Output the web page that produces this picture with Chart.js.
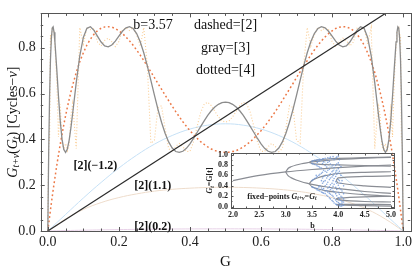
<!DOCTYPE html>
<html><head><meta charset="utf-8">
<script src="https://cdn.jsdelivr.net/npm/chart.js@4"></script>
<style>
html,body{margin:0;padding:0;background:#fff;}
#wrap{position:relative;width:415px;height:273px;overflow:hidden;}
canvas{position:absolute;left:0;top:0;}
</style></head><body>
<div id="wrap"><canvas id="main" width="415" height="273"></canvas><canvas id="inset" width="415" height="273"></canvas></div>
<script>
// ---------- main panel data (logistic map iterates, b = 3.57) ----------
const xGrid = [0,0.0025,0.005,0.0075,0.01,0.0125,0.015,0.0175,0.02,0.025,0.03,0.035,0.04,0.045,0.05,0.055,0.06,0.065,0.07,0.08,0.09,0.1,0.11,0.12,0.13,0.14,0.15,0.16,0.17,0.18,0.19,0.2,0.21,0.22,0.23,0.24,0.25,0.26,0.27,0.28,0.29,0.3,0.31,0.32,0.33,0.34,0.35,0.36,0.37,0.38,0.39,0.4,0.41,0.42,0.43,0.44,0.45,0.46,0.47,0.48,0.49,0.5,
0.51,0.52,0.53,0.54,0.55,0.56,0.57,0.58,0.59,0.6,0.61,0.62,0.63,0.64,0.65,0.66,0.67,0.68,0.69,0.7,0.71,0.72,0.73,0.74,0.75,0.76,0.77,0.78,0.79,0.8,0.81,0.82,0.83,0.84,0.85,0.86,0.87,0.88,0.89,0.9,0.91,0.92,0.93,0.935,0.94,0.945,0.95,0.955,0.96,0.965,0.97,0.975,0.98,0.9825,0.985,0.9875,0.99,0.9925,0.995,0.9975,1];
// dashed = [2]
const dashed2 = [0,0.032,0.062,0.092,0.122,0.150,0.178,0.206,0.232,0.284,0.332,0.379,0.422,0.464,0.503,0.540,0.574,0.607,0.637,0.692,0.739,0.778,0.812,0.838,0.859,0.875,0.885,0.891,0.892,0.890,0.884,0.874,0.862,0.847,0.830,0.811,0.790,0.768,0.744,0.720,0.695,0.670,0.644,0.619,0.594,0.569,0.545,0.521,0.499,0.477,0.457,0.438,0.421,0.405,0.390,0.378,0.367,0.358,0.351,0.347,0.344,0.343,
0.344,0.347,0.351,0.358,0.367,0.378,0.390,0.405,0.421,0.438,0.457,0.477,0.499,0.521,0.545,0.569,0.594,0.619,0.644,0.670,0.695,0.720,0.744,0.768,0.790,0.811,0.830,0.847,0.862,0.874,0.884,0.890,0.892,0.891,0.885,0.875,0.859,0.838,0.812,0.778,0.739,0.692,0.637,0.607,0.574,0.540,0.503,0.464,0.422,0.379,0.332,0.284,0.232,0.206,0.178,0.150,0.122,0.092,0.062,0.032,0];
// gray = [3]
const gray3 = [0,0.346,0.589,0.749,0.842,0.886,0.891,0.868,0.826,0.711,0.588,0.480,0.401,0.356,0.343,0.358,0.396,0.450,0.514,0.648,0.765,0.845,0.885,0.892,0.876,0.850,0.825,0.808,0.804,0.812,0.829,0.851,0.872,0.887,0.892,0.884,0.862,0.826,0.778,0.721,0.658,0.593,0.531,0.475,0.427,0.389,0.362,0.347,0.343,0.348,0.361,0.380,0.404,0.430,0.456,0.481,0.505,0.525,0.541,0.553,0.560,0.563,
0.560,0.553,0.541,0.525,0.505,0.481,0.456,0.430,0.404,0.380,0.361,0.348,0.343,0.347,0.362,0.389,0.427,0.475,0.531,0.593,0.658,0.721,0.778,0.826,0.862,0.884,0.892,0.887,0.872,0.851,0.829,0.812,0.804,0.808,0.825,0.850,0.876,0.892,0.885,0.845,0.765,0.648,0.514,0.450,0.396,0.358,0.343,0.356,0.401,0.480,0.588,0.711,0.826,0.868,0.891,0.886,0.842,0.749,0.589,0.346,0];
// dotted = [4]
const dotted4 = [0,0.372,0.406,0.857,0.813,0.888,0.883,0.870,0.806,0.665,0.410,0.553,0.383,0.354,0.382,0.350,0.373,0.505,0.557,0.360,0.888,0.816,0.888,0.879,0.885,0.825,0.808,0.832,0.842,0.826,0.805,0.827,0.879,0.887,0.875,0.889,0.856,0.807,0.888,0.724,0.383,0.396,0.539,0.547,0.448,0.360,0.346,0.370,0.382,0.368,0.347,0.348,0.389,0.455,0.517,0.554,0.562,0.547,0.523,0.498,0.481,0.475,
0.481,0.498,0.523,0.547,0.562,0.554,0.517,0.455,0.389,0.348,0.347,0.368,0.382,0.370,0.346,0.360,0.448,0.547,0.539,0.396,0.383,0.724,0.888,0.807,0.856,0.889,0.875,0.887,0.879,0.827,0.805,0.826,0.842,0.832,0.808,0.825,0.885,0.879,0.888,0.816,0.888,0.360,0.557,0.505,0.373,0.350,0.382,0.354,0.383,0.553,0.410,0.665,0.806,0.870,0.883,0.888,0.813,0.857,0.406,0.372,0];
// light curves [2](b) for b = -1.2, 1.1, 0.2
const smoothX = [0,0.05,0.1,0.15,0.2,0.25,0.3,0.35,0.4,0.45,0.5,0.55,0.6,0.65,0.7,0.75,0.8,0.85,0.9,0.95,1];
const curveNeg12 = [0,0.072,0.144,0.212,0.275,0.331,0.379,0.417,0.445,0.462,0.468,0.462,0.445,0.417,0.379,0.331,0.275,0.212,0.144,0.072,0];
const curve11 = [0,0.052,0.094,0.124,0.146,0.162,0.174,0.182,0.187,0.190,0.191,0.190,0.187,0.182,0.174,0.162,0.146,0.124,0.094,0.052,0];
const curve02 = [0,0.0019,0.0035,0.0050,0.0062,0.0072,0.0080,0.0087,0.0091,0.0094,0.0095,0.0094,0.0091,0.0087,0.0080,0.0072,0.0062,0.0050,0.0035,0.0019,0];
const diagX = [0,1];
const diagY = [0,1];
const xTickVals = [0,0.2,0.4,0.6,0.8,1.0];
const yTickVals = [0,0.2,0.4,0.6,0.8];

// ---------- inset data (fixed points vs b) ----------
const p1B = [2,2.5,3,3.5,4,4.5,5];
const p1Y = [0.5,0.6,0.667,0.714,0.75,0.778,0.8];
const p2B = [3,3.05,3.1,3.2,3.3,3.4,3.5,3.75,4,4.5,5];
const p2Up = [0.667,0.738,0.765,0.800,0.824,0.842,0.857,0.885,0.905,0.930,0.946];
const p2Lo = [0.667,0.590,0.558,0.513,0.479,0.452,0.429,0.382,0.346,0.292,0.254];
const p4B = [3.449,3.5,3.6,3.75,4,4.5,5];
const p4A = [0.850,0.875,0.895,0.910,0.925,0.94,0.95];
const p4Bv = [0.850,0.827,0.815,0.808,0.801,0.79,0.78];
const p4C = [0.440,0.501,0.55,0.595,0.637,0.66,0.67];
const p4D = [0.440,0.383,0.345,0.31,0.277,0.23,0.2];
const snB = [3.96,4,4.5,5];
const snA1 = [0.50,0.552,0.58,0.59];
const snA2 = [0.50,0.454,0.40,0.37];
const snB1 = [0.15,0.165,0.19,0.2];
const snB2 = [0.15,0.131,0.1,0.09];
const snC1 = [0.04,0.043,0.045,0.04];
const snC2 = [0.04,0.034,0.02,0.012];
const scatB = [3.5,3.5,3.5,3.5,3.55,3.55,3.55,3.55,3.6,3.6,3.6,3.6,3.6,3.6,3.65,3.65,3.65,3.65,3.65,3.65,3.7,3.7,3.7,3.7,3.7,3.7,3.7,3.75,3.75,3.75,3.75,3.75,3.75,3.75,3.75,3.8,3.8,3.8,3.8,3.8,3.8,3.8,3.8,3.85,3.85,3.85,3.85,3.85,3.85,3.85,3.85,3.9,3.9,3.9,3.9,3.9,3.9,3.9,3.9,3.9,3.95,3.95,3.95,3.95,3.95,3.95,3.95,3.95,3.95,4.0,4.0,4.0,4.0,4.0,4.0,4.0,4.0,4.0,4.0,4.05,4.05,4.05,4.05,4.05,4.05,4.05,4.05,4.1,4.1,4.1,4.1,4.1,
3.52,3.52,3.52,3.52,3.58,3.58,3.58,3.58,3.58,3.63,3.63,3.63,3.63,3.63,3.63,3.68,3.68,3.68,3.68,3.68,3.68,3.72,3.72,3.72,3.72,3.72,3.72,3.72,3.78,3.78,3.78,3.78,3.78,3.78,3.78,3.83,3.83,3.83,3.83,3.83,3.83,3.83,3.83,3.88,3.88,3.88,3.88,3.88,3.88,3.88,3.88,3.92,3.92,3.92,3.92,3.92,3.92,3.92,3.92,3.97,3.97,3.97,3.97,3.97,3.97,3.97,3.97,3.97,4.02,4.02,4.02,4.02,4.02,4.02,4.02,4.02,4.02,4.07,4.07,4.07,4.07,4.07,4.07];
const scatY = [0.38,0.50,0.83,0.87,0.36,0.54,0.81,0.89,0.32,0.35,0.58,0.78,0.85,0.90,0.30,0.40,0.62,0.75,0.88,0.91,0.27,0.33,0.45,0.55,0.66,0.83,0.92,0.25,0.30,0.40,0.50,0.60,0.68,0.79,0.93,0.20,0.28,0.36,0.47,0.58,0.70,0.85,0.94,0.15,0.24,0.33,0.42,0.55,0.63,0.82,0.95,0.10,0.20,0.30,0.39,0.50,0.60,0.69,0.80,0.96,0.05,0.13,0.25,0.37,0.48,0.58,0.66,0.79,0.93,0.02,0.08,0.17,0.27,0.41,0.52,0.64,0.73,0.84,0.97,0.01,0.05,0.12,0.20,0.33,0.45,0.60,0.77,0.03,0.09,0.15,0.25,0.40,
0.37,0.52,0.82,0.88,0.34,0.56,0.80,0.89,0.60,0.31,0.38,0.60,0.77,0.87,0.90,0.28,0.36,0.50,0.64,0.74,0.90,0.26,0.35,0.48,0.58,0.70,0.86,0.92,0.22,0.31,0.43,0.55,0.66,0.76,0.89,0.17,0.26,0.38,0.52,0.61,0.72,0.87,0.93,0.12,0.22,0.35,0.45,0.57,0.67,0.78,0.92,0.07,0.16,0.28,0.43,0.54,0.63,0.75,0.90,0.04,0.10,0.21,0.33,0.45,0.62,0.70,0.82,0.95,0.02,0.06,0.14,0.24,0.36,0.50,0.68,0.80,0.90,0.02,0.07,0.10,0.18,0.30,0.50];
const insetXTicks = [2.0,2.5,3.0,3.5,4.0,4.5,5.0];
const insetYTicks = [0,0.2,0.4,0.6,0.8,1.0];

function pts(xs, ys){ return xs.map((x,i)=>({x:x, y:ys[i]})); }
const SERIF = '"Liberation Serif","Times New Roman",serif';

function drawRich(ctx, segs, x, y, baseSize, align){
  let w = 0;
  const fonts = segs.map(s=>{
    const sz = s.sub ? baseSize*0.7 : baseSize;
    const f = (s.bold?'bold ':'') + (s.it?'italic ':'') + sz + 'px ' + SERIF;
    ctx.font = f; const m = ctx.measureText(s.t).width; w += m; return {f, m};
  });
  let cx = align==='center' ? x - w/2 : x;
  ctx.textBaseline = 'middle'; ctx.textAlign = 'left';
  segs.forEach((s,i)=>{
    ctx.font = fonts[i].f;
    ctx.fillText(s.t, cx, y + (s.sub ? baseSize*0.28 : 0));
    cx += fonts[i].m;
  });
}

function frameTicks(ctx, chart, xs, ys, majLen, minLen){
  const a = chart.chartArea;
  ctx.save();
  ctx.strokeStyle = '#555'; ctx.lineWidth = 1;
  ctx.strokeRect(Math.round(a.left)+0.5, Math.round(a.top)+0.5, Math.round(a.right-a.left), Math.round(a.bottom-a.top));
  const X = chart.scales.x, Y = chart.scales.y;
  ctx.beginPath();
  xs.forEach(t=>{
    const px = Math.round(X.getPixelForValue(t.v))+0.5;
    const L = t.major ? majLen : minLen;
    ctx.moveTo(px, a.bottom); ctx.lineTo(px, a.bottom - L);
    ctx.moveTo(px, a.top); ctx.lineTo(px, a.top + L);
  });
  ys.forEach(t=>{
    const py = Math.round(Y.getPixelForValue(t.v))+0.5;
    const L = t.major ? majLen : minLen;
    ctx.moveTo(a.left, py); ctx.lineTo(a.left + L, py);
    ctx.moveTo(a.right, py); ctx.lineTo(a.right - L, py);
  });
  ctx.stroke();
  ctx.restore();
}

const mainXT = [], mainYT = [];
for (let i=0;i<=20;i++){ mainXT.push({v:i*0.05, major: i%4===0}); }
for (let i=0;i<=19;i++){ mainYT.push({v:i*0.05, major: i%4===0}); }

const mainPlugin = {
  id:'mainDeco',
  afterDraw(chart){
    const ctx = chart.ctx, X = chart.scales.x, Y = chart.scales.y;
    frameTicks(ctx, chart, mainXT, mainYT, 4, 2.5);
    ctx.save();
    ctx.fillStyle = '#111';
    ctx.font = '14px ' + SERIF; ctx.textBaseline='middle'; ctx.textAlign='center';
    ctx.fillText('b=3.57', X.getPixelForValue(0.296), Y.getPixelForValue(0.9));
    ctx.fillText('dashed=[2]', X.getPixelForValue(0.5), Y.getPixelForValue(0.9));
    ctx.fillText('gray=[3]', X.getPixelForValue(0.5), Y.getPixelForValue(0.796));
    ctx.fillText('dotted=[4]', X.getPixelForValue(0.5), Y.getPixelForValue(0.7));
    ctx.font = 'bold 12px ' + SERIF; ctx.textAlign='left';
    ctx.fillText('[2](\u22121.2)', X.getPixelForValue(0.072), Y.getPixelForValue(0.283));
    ctx.fillText('[2](1.1)', X.getPixelForValue(0.243), Y.getPixelForValue(0.196));
    ctx.fillText('[2](0.2)', X.getPixelForValue(0.243), Y.getPixelForValue(0.017));
    ctx.font = '15px ' + SERIF; ctx.textAlign='center';
    ctx.fillText('G', (chart.chartArea.left+chart.chartArea.right)/2, 262);
    ctx.translate(13, (chart.chartArea.top+chart.chartArea.bottom)/2);
    ctx.rotate(-Math.PI/2);
    drawRich(ctx, [
      {t:'G', it:true},{t:'t+v', it:true, sub:true},{t:'('},{t:'G', it:true},{t:'t', it:true, sub:true},{t:') [Cycles\u2212'},{t:'v', it:true},{t:']'}
    ], 0, 0, 14, 'center');
    ctx.restore();
  }
};

new Chart(document.getElementById('main'), {
  type:'line',
  data:{datasets:[
    {data:pts(diagX,diagY), borderColor:'#2b2b2b', borderWidth:1.2, order:0},
    {data:pts(xGrid,gray3), borderColor:'#8c8c8c', borderWidth:1.3, order:1},
    {data:pts(xGrid,dashed2), borderColor:'#ec7846', borderWidth:1.5, borderDash:[1.8,2.6], order:2},
    {data:pts(xGrid,dotted4), borderColor:'rgba(248,190,115,0.75)', borderWidth:1.1, borderDash:[1,2], order:3},
    {data:pts(smoothX,curveNeg12), borderColor:'#c6e1f6', borderWidth:1, tension:0.4, order:4},
    {data:pts(smoothX,curve11), borderColor:'#eedccb', borderWidth:1, tension:0.4, order:5},
    {data:pts(smoothX,curve02), borderColor:'#e8d2e8', borderWidth:1, tension:0.4, order:6}
  ]},
  options:{
    responsive:false, animation:false, devicePixelRatio:1,
    layout:{padding:{top:3, right:3.5, left:0, bottom:0}},
    elements:{point:{radius:0}, line:{tension:0}},
    plugins:{legend:{display:false}, tooltip:{enabled:false}},
    scales:{
      x:{type:'linear', min:-0.02, max:1.02,
        afterBuildTicks(s){ s.ticks = xTickVals.map(v=>({value:v})); },
        afterFit(s){ s.height = 42; },
        grid:{display:false, drawTicks:false}, border:{display:false},
        ticks:{padding:3, color:'#222', font:{family:SERIF, size:14}, maxRotation:0, autoSkip:false, callback:v=>Number(v).toFixed(1)}},
      y:{type:'linear', min:0, max:0.95,
        afterBuildTicks(s){ s.ticks = yTickVals.map(v=>({value:v})); },
        afterFit(s){ s.width = 40.7; },
        grid:{display:false, drawTicks:false}, border:{display:false},
        ticks:{padding:5, color:'#222', font:{family:SERIF, size:14}, autoSkip:false, callback:v=>Number(v).toFixed(1)}}
    }
  },
  plugins:[mainPlugin]
});

// ---------- inset ----------
const insXT = [], insYT = [];
for (let i=0;i<=12;i++){ insXT.push({v:2+i*0.25, major: i%2===0}); }
for (let i=0;i<=10;i++){ insYT.push({v:i*0.1, major: i%2===0}); }
const insetPlugin = {
  id:'insetDeco',
  afterDraw(chart){
    const ctx = chart.ctx, X = chart.scales.x, Y = chart.scales.y, a = chart.chartArea;
    frameTicks(ctx, chart, insXT, insYT, 2.5, 1.5);
    ctx.save();
    ctx.fillStyle = '#222';
    ctx.font = 'bold 8px ' + SERIF; ctx.textAlign='center'; ctx.textBaseline='middle';
    ctx.fillText('b', (a.left+a.right)/2, 226);
    drawRich(ctx, [{t:'fixed\u2212points ', bold:true},{t:'G', bold:true, it:true},{t:'t+v', bold:true, it:true, sub:true},{t:'=', bold:true},{t:'G', bold:true, it:true},{t:'t', bold:true, it:true, sub:true}], X.getPixelForValue(2.27), Y.getPixelForValue(0.19), 8, 'left');
    ctx.translate(210, (a.top+a.bottom)/2);
    ctx.rotate(-Math.PI/2);
    drawRich(ctx, [{t:'G', bold:true, it:true},{t:'t', bold:true, it:true, sub:true},{t:'=G[t]', bold:true}], 0, 0, 8, 'center');
    ctx.restore();
  }
};
const grayLine = (xs, ys) => ({type:'line', data:pts(xs,ys), borderColor:'#8a8d94', borderWidth:1.2, pointRadius:0, tension:0.3});
new Chart(document.getElementById('inset'), {
  type:'line',
  data:{datasets:[
    {type:'scatter', data:pts(scatB,scatY), pointRadius:0.8, pointBorderWidth:0, backgroundColor:'rgba(110,150,215,0.8)', borderColor:'rgba(110,150,215,0.8)', order:0},
    grayLine(p1B,p1Y), grayLine(p2B,p2Up), grayLine(p2B,p2Lo),
    grayLine(p4B,p4A), grayLine(p4B,p4Bv), grayLine(p4B,p4C), grayLine(p4B,p4D),
    grayLine(snB,snA1), grayLine(snB,snA2), grayLine(snB,snB1), grayLine(snB,snB2), grayLine(snB,snC1), grayLine(snB,snC2)
  ]},
  options:{
    responsive:false, animation:false, devicePixelRatio:1,
    layout:{padding:{top:153, right:21, left:211, bottom:45}},
    plugins:{legend:{display:false}, tooltip:{enabled:false}},
    scales:{
      x:{type:'linear', min:1.962, max:5.057,
        afterBuildTicks(s){ s.ticks = insetXTicks.map(v=>({value:v})); },
        afterFit(s){ s.height = 20; },
        grid:{display:false, drawTicks:false}, border:{display:false},
        ticks:{padding:2, color:'#222', font:{family:SERIF, size:8, weight:'bold'}, maxRotation:0, autoSkip:false, callback:v=>Number(v).toFixed(1)}},
      y:{type:'linear', min:-0.025, max:1.03,
        afterBuildTicks(s){ s.ticks = insetYTicks.map(v=>({value:v})); },
        afterFit(s){ s.width = 20; },
        grid:{display:false, drawTicks:false}, border:{display:false},
        ticks:{padding:3, color:'#222', font:{family:SERIF, size:8, weight:'bold'}, autoSkip:false, callback:v=>Number(v).toFixed(1)}}
    }
  },
  plugins:[insetPlugin]
});
</script>
</body></html>
